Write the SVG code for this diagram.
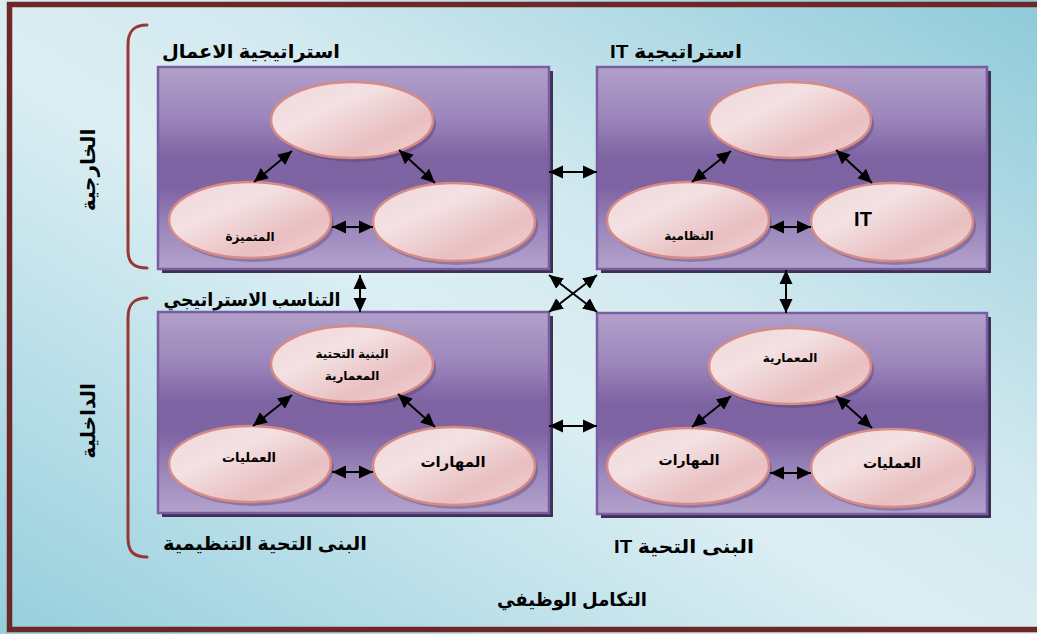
<svg xmlns="http://www.w3.org/2000/svg" width="1037" height="634" viewBox="0 0 1037 634">
<style>
.lbl{font-family:"Liberation Sans","DejaVu Sans",sans-serif;font-weight:bold;fill:#000;text-anchor:middle}
.head{font-size:19px}
.el{font-size:12px}
.box{fill:url(#boxg);stroke:#7a5ca3;stroke-width:2.5}
.shadow{fill:#3d3150}
.ell{fill:url(#ellg);stroke:#d68a84;stroke-width:2.5}
.ellsh{fill:#4a3566;opacity:0.35}
.arr{stroke:#000;stroke-width:2;fill:none;marker-start:url(#ah);marker-end:url(#ah)}
.brk{fill:none;stroke:#983733;stroke-width:3;stroke-linecap:round}
</style>
<defs>
<linearGradient id="bg" x1="0" y1="1" x2="1" y2="0">
<stop offset="0" stop-color="#96cfdd"/>
<stop offset="0.45" stop-color="#dbeef3"/>
<stop offset="0.6" stop-color="#d4eaf0"/>
<stop offset="1" stop-color="#8ecad9"/>
</linearGradient>
<linearGradient id="boxg" x1="0" y1="0" x2="0" y2="1">
<stop offset="0" stop-color="#b2a0ca"/>
<stop offset="0.25" stop-color="#9c86bb"/>
<stop offset="0.45" stop-color="#7e63a3"/>
<stop offset="0.6" stop-color="#7f64a4"/>
<stop offset="0.8" stop-color="#9c88bc"/>
<stop offset="1" stop-color="#b3a2cd"/>
</linearGradient>
<linearGradient id="ellg" x1="0" y1="0" x2="1" y2="1">
<stop offset="0" stop-color="#f0d6d9"/>
<stop offset="0.35" stop-color="#f3e1e3"/>
<stop offset="0.7" stop-color="#e9bfc1"/>
<stop offset="1" stop-color="#f0d2d4"/>
</linearGradient>
<marker id="ah" markerUnits="userSpaceOnUse" markerWidth="15" markerHeight="14" refX="14" refY="6.5" orient="auto-start-reverse" viewBox="0 0 15 13">
<path d="M0,0 L14,6.5 L0,13 z" fill="#000"/>
</marker>
</defs>

<rect x="0" y="0" width="1037" height="634" fill="url(#bg)"/>
<rect x="9.5" y="4.5" width="1040" height="625" fill="none" stroke="#6c2726" stroke-width="5.5"/>

<path class="brk" d="M147,25 C133,25 128,32 128,45 L128,250 C128,262 133,268 147,268"/>
<path class="brk" d="M147,298 C133,298 128,305 128,318 L128,538 C128,551 133,557 147,557"/>

<g id="label-external"><text class="lbl" font-size="20" transform="translate(95,170) rotate(-90)">الخارجية</text></g>
<g id="label-internal"><text class="lbl" font-size="20" transform="translate(95,421) rotate(-90)">الداخلية</text></g>

<g id="business-strategy">
<rect class="shadow" x="162" y="71" width="391" height="202"/>
<rect class="box" x="158" y="67" width="391" height="202"/>
<ellipse class="ellsh" cx="355" cy="124" rx="81" ry="38"/>
<ellipse class="ellsh" cx="253" cy="224" rx="81" ry="38"/>
<ellipse class="ellsh" cx="457" cy="226" rx="81" ry="39"/>
<ellipse class="ell" cx="352" cy="120" rx="81" ry="38"/>
<ellipse class="ell" cx="250" cy="220" rx="81" ry="38"/>
<ellipse class="ell" cx="454" cy="222" rx="81" ry="39"/>
<text class="lbl el" x="250" y="241">المتميزة</text>
<text class="lbl head" x="251" y="58" textLength="178" lengthAdjust="spacingAndGlyphs">استراتيجية الاعمال</text>
</g>

<g id="it-strategy">
<rect class="shadow" x="601" y="71" width="390" height="202"/>
<rect class="box" x="597" y="67" width="390" height="202"/>
<ellipse class="ellsh" cx="793" cy="124" rx="81" ry="38"/>
<ellipse class="ellsh" cx="691" cy="224" rx="81" ry="38"/>
<ellipse class="ellsh" cx="895" cy="226" rx="81" ry="39"/>
<ellipse class="ell" cx="790" cy="120" rx="81" ry="38"/>
<ellipse class="ell" cx="688" cy="220" rx="81" ry="38"/>
<ellipse class="ell" cx="892" cy="222" rx="81" ry="39"/>
<text class="lbl el" x="689" y="240">النظامية</text>
<text class="lbl" font-size="20" x="863" y="226">IT</text>
<text class="lbl head" x="676" y="58" direction="rtl" textLength="132" lengthAdjust="spacingAndGlyphs">استراتيجية IT</text>
</g>

<g id="org-infrastructure">
<rect class="shadow" x="162" y="316" width="391" height="201"/>
<rect class="box" x="158" y="312" width="391" height="201"/>
<ellipse class="ellsh" cx="355" cy="368" rx="81" ry="38"/>
<ellipse class="ellsh" cx="253" cy="468" rx="81" ry="38"/>
<ellipse class="ellsh" cx="457" cy="470" rx="81" ry="39"/>
<ellipse class="ell" cx="352" cy="364" rx="81" ry="38"/>
<ellipse class="ell" cx="250" cy="464" rx="81" ry="38"/>
<ellipse class="ell" cx="454" cy="466" rx="81" ry="39"/>
<text class="lbl el" x="352" y="358">البنية التحتية</text>
<text class="lbl el" x="352" y="380">المعمارية</text>
<text class="lbl" font-size="13" x="249" y="462">العمليات</text>
<text class="lbl" font-size="15" x="453" y="467">المهارات</text>
<text class="lbl head" x="252" y="306" textLength="177" lengthAdjust="spacingAndGlyphs">التناسب الاستراتيجي</text>
<text class="lbl head" x="265" y="550" textLength="204" lengthAdjust="spacingAndGlyphs">البنى التحية التنظيمية</text>
</g>

<g id="it-infrastructure">
<rect class="shadow" x="601" y="317" width="390" height="201"/>
<rect class="box" x="597" y="313" width="390" height="201"/>
<ellipse class="ellsh" cx="793" cy="370" rx="81" ry="38"/>
<ellipse class="ellsh" cx="691" cy="470" rx="81" ry="38"/>
<ellipse class="ellsh" cx="895" cy="472" rx="81" ry="39"/>
<ellipse class="ell" cx="790" cy="366" rx="81" ry="38"/>
<ellipse class="ell" cx="688" cy="466" rx="81" ry="38"/>
<ellipse class="ell" cx="892" cy="468" rx="81" ry="39"/>
<text class="lbl el" x="790" y="362">المعمارية</text>
<text class="lbl" font-size="14" x="689" y="465">المهارات</text>
<text class="lbl" font-size="14" x="892" y="468">العمليات</text>
<text class="lbl head" x="684" y="553" direction="rtl" textLength="140" lengthAdjust="spacingAndGlyphs">البنى التحية IT</text>
</g>

<g id="label-functional"><text class="lbl head" x="572" y="606" textLength="150" lengthAdjust="spacingAndGlyphs">التكامل الوظيفي</text></g>

<g id="connectors">
<line class="arr" x1="292" y1="151" x2="254" y2="182"/>
<line class="arr" x1="399" y1="150" x2="435" y2="183"/>
<line class="arr" x1="332" y1="227" x2="373" y2="227"/>
<line class="arr" x1="731" y1="151" x2="692" y2="182"/>
<line class="arr" x1="836" y1="150" x2="872" y2="183"/>
<line class="arr" x1="770" y1="227" x2="811" y2="227"/>
<line class="arr" x1="292" y1="395" x2="253" y2="426"/>
<line class="arr" x1="398" y1="394" x2="435" y2="427"/>
<line class="arr" x1="332" y1="472" x2="373" y2="472"/>
<line class="arr" x1="731" y1="396" x2="692" y2="427"/>
<line class="arr" x1="836" y1="396" x2="872" y2="428"/>
<line class="arr" x1="770" y1="473" x2="811" y2="473"/>
<line class="arr" x1="549" y1="172" x2="597" y2="172"/>
<line class="arr" x1="549" y1="426" x2="597" y2="426"/>
<line class="arr" x1="360" y1="275" x2="360" y2="312"/>
<line class="arr" x1="786" y1="270" x2="786" y2="313"/>
<line class="arr" x1="549" y1="275" x2="597" y2="312"/>
<line class="arr" x1="597" y1="275" x2="549" y2="312"/>
</g>
</svg>
